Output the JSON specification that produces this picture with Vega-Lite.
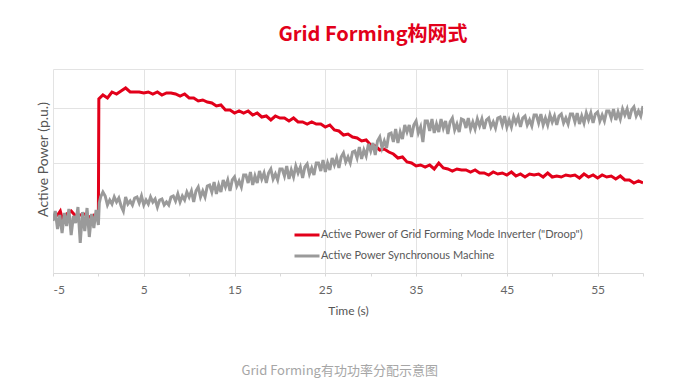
{
  "$schema": "https://vega.github.io/schema/vega-lite/v6.json",
  "padding": {"left": 36, "top": 25, "right": 10, "bottom": 5},
  "config": {
    "view": {"stroke": null},
    "font": "Lato",
    "title": {"font": "Noto Sans CJK SC"}
  },
  "title": {
    "text": "Grid Forming有功功率分配示意图",
    "orient": "bottom",
    "anchor": "middle",
    "color": "#a6a6a6",
    "fontSize": 13,
    "fontWeight": "normal",
    "font": "Noto Sans CJK SC",
    "offset": 49
  },
  "datasets": {
    "red": [
      {"t": -5, "p": 56}, {"t": -4.5, "p": 58}, {"t": -4.2, "p": 62}, {"t": -4, "p": 55}, {"t": -3.5, "p": 59},
      {"t": -3, "p": 62}, {"t": -2.5, "p": 57}, {"t": -2, "p": 58}, {"t": -1.5, "p": 59}, {"t": -1, "p": 56},
      {"t": -0.5, "p": 58}, {"t": 0, "p": 57}, {"t": 0.05, "p": 174}, {"t": 0.5, "p": 178}, {"t": 1, "p": 175},
      {"t": 1.5, "p": 181}, {"t": 2, "p": 179}, {"t": 2.5, "p": 182}, {"t": 3, "p": 185}, {"t": 3.5, "p": 181},
      {"t": 4, "p": 181}, {"t": 4.5, "p": 181}, {"t": 5, "p": 180}, {"t": 5.5, "p": 181}, {"t": 6, "p": 179},
      {"t": 6.5, "p": 181}, {"t": 7, "p": 178}, {"t": 7.5, "p": 180}, {"t": 8, "p": 180}, {"t": 8.5, "p": 179},
      {"t": 9, "p": 177}, {"t": 9.5, "p": 179}, {"t": 10, "p": 175}, {"t": 10.5, "p": 175}, {"t": 11, "p": 172},
      {"t": 11.5, "p": 173}, {"t": 12, "p": 171}, {"t": 12.5, "p": 170}, {"t": 13, "p": 167}, {"t": 13.5, "p": 168},
      {"t": 14, "p": 163}, {"t": 14.5, "p": 163}, {"t": 15, "p": 160}, {"t": 15.5, "p": 162}, {"t": 16, "p": 160},
      {"t": 16.5, "p": 162}, {"t": 17, "p": 158}, {"t": 17.5, "p": 160}, {"t": 18, "p": 156}, {"t": 18.5, "p": 157},
      {"t": 19, "p": 153}, {"t": 19.5, "p": 157}, {"t": 20, "p": 155}, {"t": 20.5, "p": 155}, {"t": 21, "p": 152},
      {"t": 21.5, "p": 155}, {"t": 22, "p": 151}, {"t": 22.5, "p": 151}, {"t": 23, "p": 149}, {"t": 23.5, "p": 151},
      {"t": 24, "p": 149}, {"t": 24.5, "p": 149}, {"t": 25, "p": 146}, {"t": 25.5, "p": 148}, {"t": 26, "p": 143},
      {"t": 26.5, "p": 142}, {"t": 27, "p": 138}, {"t": 27.5, "p": 139}, {"t": 28, "p": 136}, {"t": 28.5, "p": 135},
      {"t": 29, "p": 132}, {"t": 29.5, "p": 133}, {"t": 30, "p": 128}, {"t": 30.5, "p": 127}, {"t": 31, "p": 123},
      {"t": 31.5, "p": 124}, {"t": 32, "p": 121}, {"t": 32.5, "p": 119}, {"t": 33, "p": 115}, {"t": 33.5, "p": 116},
      {"t": 34, "p": 111}, {"t": 34.5, "p": 110}, {"t": 35, "p": 107}, {"t": 35.5, "p": 108}, {"t": 36, "p": 106},
      {"t": 36.5, "p": 108}, {"t": 37, "p": 104}, {"t": 37.5, "p": 110}, {"t": 38, "p": 105}, {"t": 38.5, "p": 104},
      {"t": 39, "p": 102}, {"t": 39.5, "p": 104}, {"t": 40, "p": 103}, {"t": 40.5, "p": 103}, {"t": 41, "p": 101},
      {"t": 41.5, "p": 103}, {"t": 42, "p": 100}, {"t": 42.5, "p": 100}, {"t": 43, "p": 98}, {"t": 43.5, "p": 101},
      {"t": 44, "p": 99}, {"t": 44.5, "p": 100}, {"t": 45, "p": 98}, {"t": 45.5, "p": 101}, {"t": 46, "p": 97},
      {"t": 46.5, "p": 99}, {"t": 47, "p": 96}, {"t": 47.5, "p": 99}, {"t": 48, "p": 98}, {"t": 48.5, "p": 99},
      {"t": 49, "p": 96}, {"t": 49.5, "p": 100}, {"t": 50, "p": 96}, {"t": 50.5, "p": 97}, {"t": 51, "p": 96},
      {"t": 51.5, "p": 98}, {"t": 52, "p": 97}, {"t": 52.5, "p": 98}, {"t": 53, "p": 95}, {"t": 53.5, "p": 99},
      {"t": 54, "p": 96}, {"t": 54.5, "p": 98}, {"t": 55, "p": 95}, {"t": 55.5, "p": 98}, {"t": 56, "p": 96},
      {"t": 56.5, "p": 97}, {"t": 57, "p": 94}, {"t": 57.5, "p": 97}, {"t": 58, "p": 93}, {"t": 58.5, "p": 93},
      {"t": 59, "p": 90}, {"t": 59.5, "p": 92}, {"t": 60, "p": 90}
    ],
    "gray": [
      {"t": -5, "p": 52}, {"t": -4.75, "p": 62}, {"t": -4.5, "p": 44}, {"t": -4.25, "p": 58}, {"t": -4, "p": 40},
      {"t": -3.75, "p": 60}, {"t": -3.5, "p": 47}, {"t": -3.25, "p": 64}, {"t": -3, "p": 38}, {"t": -2.75, "p": 57},
      {"t": -2.5, "p": 50}, {"t": -2.25, "p": 66}, {"t": -2, "p": 30}, {"t": -1.75, "p": 61}, {"t": -1.5, "p": 42},
      {"t": -1.25, "p": 65}, {"t": -1, "p": 36}, {"t": -0.75, "p": 59}, {"t": -0.5, "p": 45}, {"t": -0.25, "p": 63},
      {"t": 0, "p": 48}, {"t": 0.1, "p": 70},
      {"t": 0.25, "p": 76}, {"t": 0.5, "p": 81}, {"t": 0.75, "p": 77}, {"t": 1, "p": 68}, {"t": 1.25, "p": 73},
      {"t": 1.5, "p": 69}, {"t": 1.75, "p": 76}, {"t": 2, "p": 71}, {"t": 2.25, "p": 75}, {"t": 2.5, "p": 67},
      {"t": 2.75, "p": 62}, {"t": 3, "p": 76}, {"t": 3.25, "p": 69}, {"t": 3.5, "p": 72}, {"t": 3.75, "p": 68},
      {"t": 4, "p": 75}, {"t": 4.25, "p": 76}, {"t": 4.5, "p": 70}, {"t": 4.75, "p": 77}, {"t": 5, "p": 68},
      {"t": 5.25, "p": 73}, {"t": 5.5, "p": 69}, {"t": 5.75, "p": 76}, {"t": 6, "p": 71}, {"t": 6.25, "p": 74},
      {"t": 6.5, "p": 66}, {"t": 6.75, "p": 73}, {"t": 7, "p": 74}, {"t": 7.25, "p": 68}, {"t": 7.5, "p": 71},
      {"t": 7.75, "p": 68}, {"t": 8, "p": 76}, {"t": 8.25, "p": 77}, {"t": 8.5, "p": 72}, {"t": 8.75, "p": 79},
      {"t": 9, "p": 71}, {"t": 9.25, "p": 77}, {"t": 9.5, "p": 73}, {"t": 9.75, "p": 81}, {"t": 10, "p": 76},
      {"t": 10.25, "p": 82}, {"t": 10.5, "p": 71}, {"t": 10.75, "p": 82}, {"t": 11, "p": 86}, {"t": 11.25, "p": 76},
      {"t": 11.5, "p": 82}, {"t": 11.75, "p": 76}, {"t": 12, "p": 87}, {"t": 12.25, "p": 88}, {"t": 12.5, "p": 81},
      {"t": 12.75, "p": 91}, {"t": 13, "p": 79}, {"t": 13.25, "p": 88}, {"t": 13.5, "p": 81}, {"t": 13.75, "p": 93},
      {"t": 14, "p": 86}, {"t": 14.25, "p": 93}, {"t": 14.5, "p": 82}, {"t": 14.75, "p": 93}, {"t": 15, "p": 96},
      {"t": 15.25, "p": 87}, {"t": 15.5, "p": 92}, {"t": 15.75, "p": 86}, {"t": 16, "p": 98}, {"t": 16.25, "p": 98},
      {"t": 16.5, "p": 90}, {"t": 16.75, "p": 101}, {"t": 17, "p": 88}, {"t": 17.25, "p": 97}, {"t": 17.5, "p": 90},
      {"t": 17.75, "p": 102}, {"t": 18, "p": 94}, {"t": 18.25, "p": 100}, {"t": 18.5, "p": 90}, {"t": 18.75, "p": 100},
      {"t": 19, "p": 104}, {"t": 19.25, "p": 94}, {"t": 19.5, "p": 99}, {"t": 19.75, "p": 93}, {"t": 20, "p": 104},
      {"t": 20.25, "p": 104}, {"t": 20.5, "p": 97}, {"t": 20.75, "p": 107}, {"t": 21, "p": 94}, {"t": 21.25, "p": 103},
      {"t": 21.5, "p": 96}, {"t": 21.75, "p": 107}, {"t": 22, "p": 100}, {"t": 22.25, "p": 106}, {"t": 22.5, "p": 95},
      {"t": 22.75, "p": 106}, {"t": 23, "p": 109}, {"t": 23.25, "p": 99}, {"t": 23.5, "p": 105}, {"t": 23.75, "p": 98},
      {"t": 24, "p": 110}, {"t": 24.25, "p": 110}, {"t": 24.5, "p": 102}, {"t": 24.75, "p": 113}, {"t": 25, "p": 101},
      {"t": 25.25, "p": 110}, {"t": 25.5, "p": 103}, {"t": 25.75, "p": 115}, {"t": 26, "p": 108}, {"t": 26.25, "p": 115},
      {"t": 26.5, "p": 105}, {"t": 26.75, "p": 116}, {"t": 27, "p": 120}, {"t": 27.25, "p": 111}, {"t": 27.5, "p": 116},
      {"t": 27.75, "p": 110}, {"t": 28, "p": 121}, {"t": 28.25, "p": 122}, {"t": 28.5, "p": 115}, {"t": 28.75, "p": 126},
      {"t": 29, "p": 114}, {"t": 29.25, "p": 123}, {"t": 29.5, "p": 117}, {"t": 29.75, "p": 129}, {"t": 30, "p": 122},
      {"t": 30.25, "p": 130}, {"t": 30.5, "p": 118}, {"t": 30.75, "p": 132}, {"t": 31, "p": 136}, {"t": 31.25, "p": 125},
      {"t": 31.5, "p": 132}, {"t": 31.75, "p": 125}, {"t": 32, "p": 139}, {"t": 32.25, "p": 140}, {"t": 32.5, "p": 131},
      {"t": 32.75, "p": 144}, {"t": 33, "p": 130}, {"t": 33.25, "p": 141}, {"t": 33.5, "p": 134}, {"t": 33.75, "p": 148},
      {"t": 34, "p": 141}, {"t": 34.25, "p": 148}, {"t": 34.5, "p": 136}, {"t": 34.75, "p": 148}, {"t": 35, "p": 152},
      {"t": 35.25, "p": 140}, {"t": 35.5, "p": 146}, {"t": 35.75, "p": 131}, {"t": 36, "p": 152}, {"t": 36.25, "p": 152},
      {"t": 36.5, "p": 142}, {"t": 36.75, "p": 154}, {"t": 37, "p": 140}, {"t": 37.25, "p": 149}, {"t": 37.5, "p": 141},
      {"t": 37.75, "p": 154}, {"t": 38, "p": 145}, {"t": 38.25, "p": 152}, {"t": 38.5, "p": 139}, {"t": 38.75, "p": 151},
      {"t": 39, "p": 155}, {"t": 39.25, "p": 143}, {"t": 39.5, "p": 149}, {"t": 39.75, "p": 141}, {"t": 40, "p": 154},
      {"t": 40.25, "p": 153}, {"t": 40.5, "p": 145}, {"t": 40.75, "p": 155}, {"t": 41, "p": 144}, {"t": 41.25, "p": 151},
      {"t": 41.5, "p": 144}, {"t": 41.75, "p": 154}, {"t": 42, "p": 147}, {"t": 42.25, "p": 154}, {"t": 42.5, "p": 144},
      {"t": 42.75, "p": 153}, {"t": 43, "p": 155}, {"t": 43.25, "p": 146}, {"t": 43.5, "p": 151}, {"t": 43.75, "p": 145},
      {"t": 44, "p": 155}, {"t": 44.25, "p": 156}, {"t": 44.5, "p": 148}, {"t": 44.75, "p": 157}, {"t": 45, "p": 146},
      {"t": 45.25, "p": 153}, {"t": 45.5, "p": 146}, {"t": 45.75, "p": 156}, {"t": 46, "p": 150}, {"t": 46.25, "p": 156},
      {"t": 46.5, "p": 146}, {"t": 46.75, "p": 155}, {"t": 47, "p": 157}, {"t": 47.25, "p": 148}, {"t": 47.5, "p": 153},
      {"t": 47.75, "p": 147}, {"t": 48, "p": 158}, {"t": 48.25, "p": 158}, {"t": 48.5, "p": 150}, {"t": 48.75, "p": 159},
      {"t": 49, "p": 148}, {"t": 49.25, "p": 155}, {"t": 49.5, "p": 148}, {"t": 49.75, "p": 158}, {"t": 50, "p": 151},
      {"t": 50.25, "p": 157}, {"t": 50.5, "p": 148}, {"t": 50.75, "p": 157}, {"t": 51, "p": 159}, {"t": 51.25, "p": 150},
      {"t": 51.5, "p": 155}, {"t": 51.75, "p": 149}, {"t": 52, "p": 159}, {"t": 52.25, "p": 159}, {"t": 52.5, "p": 151},
      {"t": 52.75, "p": 160}, {"t": 53, "p": 149}, {"t": 53.25, "p": 157}, {"t": 53.5, "p": 150}, {"t": 53.75, "p": 160},
      {"t": 54, "p": 153}, {"t": 54.25, "p": 160}, {"t": 54.5, "p": 150}, {"t": 54.75, "p": 159}, {"t": 55, "p": 161},
      {"t": 55.25, "p": 152}, {"t": 55.5, "p": 158}, {"t": 55.75, "p": 152}, {"t": 56, "p": 162}, {"t": 56.25, "p": 162},
      {"t": 56.5, "p": 155}, {"t": 56.75, "p": 164}, {"t": 57, "p": 153}, {"t": 57.25, "p": 161}, {"t": 57.5, "p": 154},
      {"t": 57.75, "p": 164}, {"t": 58, "p": 158}, {"t": 58.25, "p": 164}, {"t": 58.5, "p": 154}, {"t": 58.75, "p": 163},
      {"t": 59, "p": 166}, {"t": 59.25, "p": 157}, {"t": 59.5, "p": 162}, {"t": 59.75, "p": 157}, {"t": 60, "p": 167}
    ]
  },
  "vconcat": [
    {
      "width": 590,
      "height": 204,
      "title": {
        "text": "Grid Forming构网式",
        "color": "#e2001a",
        "fontSize": 20,
        "fontWeight": "bold",
        "font": "Noto Sans CJK SC",
        "anchor": "middle",
        "dx": 25,
        "offset": 24
      },
      "layer": [
        {
          "data": {"name": "red"},
          "mark": {"type": "line", "strokeWidth": 3, "clip": true},
          "encoding": {
            "x": {
              "field": "t", "type": "quantitative",
              "scale": {"domain": [-5, 60], "nice": false, "zero": false},
              "axis": {
                "values": [-5, 0, 5, 10, 15, 20, 25, 30, 35, 40, 45, 50, 55, 60],
                "labelExpr": "(datum.value + 5) % 10 == 0 && datum.value < 60 ? '' + datum.value : ''",
                "gridOpacity": {"condition": {"test": "(datum.value + 5) % 10 == 0 && datum.value < 60", "value": 1}, "value": 0},
                "grid": true,
                "gridColor": "#e3e3e3",
                "domainColor": "#d9d9d9",
                "tickColor": "#d9d9d9",
                "tickSize": 3,
                "labelPadding": 8,
                "labelFontSize": 12,
                "labelColor": "#666666",
                "labelFont": "Lato",
                "title": "Time (s)",
                "titleFont": "Lato",
                "titleFontSize": 12,
                "titleFontWeight": "normal",
                "titleColor": "#555555",
                "titlePadding": 10
              }
            },
            "y": {
              "field": "p", "type": "quantitative",
              "scale": {"domain": [0, 204], "nice": false},
              "axis": {
                "values": [55, 110, 165, 204],
                "labels": false,
                "ticks": false,
                "domain": false,
                "grid": true,
                "gridColor": "#e3e3e3",
                "title": "Active Power (p.u.)",
                "titleFont": "Lato",
                "titleFontSize": 14,
                "titleFontWeight": "normal",
                "titleColor": "#555555",
                "titlePadding": 3,
                "titleY": 90
              }
            },
            "color": {
              "datum": "Active Power of Grid Forming Mode Inverter (\"Droop\")",
              "type": "nominal",
              "scale": {
                "domain": ["Active Power of Grid Forming Mode Inverter (\"Droop\")", "Active Power Synchronous Machine"],
                "range": ["#e2001a", "#9a9a9a"]
              },
              "legend": {
                "title": null,
                "orient": "none",
                "legendX": 240,
                "legendY": 152,
                "padding": 0,
                "symbolType": "stroke",
                "symbolStrokeWidth": 3,
                "symbolSize": 625,
                "labelOffset": 0,
                "rowPadding": 1,
                "labelFont": "Lato",
                "labelFontSize": 11,
                "labelColor": "#595959",
                "labelLimit": 400
              }
            }
          }
        },
        {
          "data": {"name": "gray"},
          "mark": {"type": "line", "strokeWidth": 3, "clip": true},
          "encoding": {
            "x": {"field": "t", "type": "quantitative"},
            "y": {"field": "p", "type": "quantitative"},
            "color": {"datum": "Active Power Synchronous Machine", "type": "nominal"}
          }
        }
      ]
    }
  ]
}
